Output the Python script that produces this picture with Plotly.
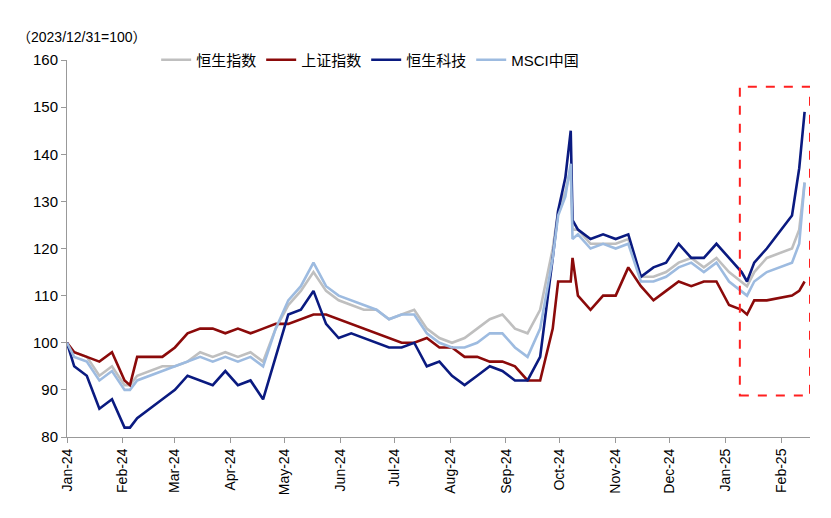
import plotly.graph_objects as go

dates = ["2024-01-01", "2024-01-05", "2024-01-12", "2024-01-19", "2024-01-26", "2024-02-02", "2024-02-05",
         "2024-02-09", "2024-02-23", "2024-03-01", "2024-03-08", "2024-03-15", "2024-03-22", "2024-03-29",
         "2024-04-05", "2024-04-12", "2024-04-19", "2024-04-26", "2024-05-03", "2024-05-10", "2024-05-17",
         "2024-05-24", "2024-05-31", "2024-06-07", "2024-06-14", "2024-06-21", "2024-06-28", "2024-07-05",
         "2024-07-12", "2024-07-19", "2024-07-26", "2024-08-02", "2024-08-09", "2024-08-16", "2024-08-23",
         "2024-08-30", "2024-09-06", "2024-09-13", "2024-09-20", "2024-09-27", "2024-09-30", "2024-10-04",
         "2024-10-07", "2024-10-08", "2024-10-11", "2024-10-18", "2024-10-25", "2024-11-01", "2024-11-08",
         "2024-11-15", "2024-11-22", "2024-11-29", "2024-12-06", "2024-12-13", "2024-12-20", "2024-12-27",
         "2025-01-03", "2025-01-10", "2025-01-13", "2025-01-17", "2025-01-24", "2025-02-07", "2025-02-11",
         "2025-02-14"]

hsi = [100, 98, 97, 93, 95, 91, 91, 93, 95, 95, 96, 98, 97, 98, 97, 98, 96, 103, 108, 111, 115,
       111, 109, 108, 107, 107, 105, 106, 107, 103, 101, 100, 101, 103, 105, 106, 103, 102, 107, 120, 128, 132,
       137, 124, 124, 121, 121, 121, 122, 114, 114, 115, 117, 118, 116, 118,
       115, 113, 112, 115, 118, 120, 124, 134]
sse = [100, 98, 97, 96, 98, 92, 91, 97, 97, 99, 102, 103, 103, 102, 103, 102, 103, 104, 104, 105, 106,
       106, 105, 104, 103, 102, 101, 100, 100, 101, 99, 99, 97, 97, 96, 96, 95, 92, 92, 103, 113, 113,
       113, 118, 110, 107, 110, 110, 116, 112, 109, 111, 113, 112, 113, 113,
       108, 107, 106, 109, 109, 110, 111, 113]
hstech = [100, 95, 93, 86, 88, 82, 82, 84, 88, 90, 93, 92, 91, 94, 91, 92, 88, 97, 106, 107, 111,
          104, 101, 102, 101, 100, 99, 99, 100, 95, 96, 93, 91, 93, 95, 94, 92, 92, 97, 118, 128, 135,
          145, 126, 124, 122, 123, 122, 123, 114, 116, 117, 121, 118, 118, 121,
          118, 115, 113, 117, 120, 127, 137, 149]
msci = [100, 97, 96, 92, 94, 90, 90, 92, 94, 95, 96, 97, 96, 97, 96, 97, 95, 103, 109, 112, 117,
        112, 110, 109, 108, 107, 105, 106, 106, 102, 100, 99, 99, 100, 102, 102, 99, 97, 103, 118, 127, 131,
        138, 122, 123, 120, 121, 120, 121, 113, 113, 114, 116, 117, 115, 117,
        113, 111, 110, 113, 115, 117, 121, 134]

series = [("恒生指数", hsi, "#bfbfbf"), ("上证指数", sse, "#8b0a0a"),
          ("恒生科技", hstech, "#0a1a80"), ("MSCI中国", msci, "#9dbbe0")]

fig = go.Figure()
for name, vals, col in series:
    fig.add_trace(go.Scatter(x=dates, y=vals, mode="lines", name=name,
                             line=dict(color=col, width=2.6)))

fig.add_shape(type="rect", x0="2025-01-09", x1="2025-02-17", y0=88.8, y1=154.3,
              xref="x", yref="y", line=dict(color="#ff2020", width=2, dash="dash"))

tickvals = ["2024-%02d-01" % m for m in range(1, 13)] + ["2025-01-01", "2025-02-01"]
ticktext = [m + "-24" for m in ["Jan", "Feb", "Mar", "Apr", "May", "Jun", "Jul", "Aug", "Sep", "Oct", "Nov", "Dec"]] + ["Jan-25", "Feb-25"]

fig.update_layout(
    width=831, height=518, plot_bgcolor="white", paper_bgcolor="white",
    margin=dict(l=59, r=29, t=52, b=89),
    font=dict(family="Liberation Sans, Noto Sans CJK SC", size=15, color="#000"),
    legend=dict(orientation="h", x=0.12, y=1.0, yanchor="middle", bgcolor="rgba(0,0,0,0)",
                font=dict(size=15)),
    annotations=[dict(text="（2023/12/31=100）", x=-0.07, y=1.06, xref="paper", yref="paper",
                      xanchor="left", yanchor="middle", showarrow=False, font=dict(size=14))],
)
fig.update_xaxes(range=["2024-01-01", "2025-02-17"], tickvals=tickvals, ticktext=ticktext,
                 tickangle=-90, showgrid=False, showline=True, linecolor="#999", ticks="outside",
                 ticklen=5, tickcolor="#999", tickfont=dict(size=14), automargin=False)
fig.update_yaxes(range=[80, 160], dtick=10, showgrid=False, showline=True, linecolor="#999",
                 ticks="outside", ticklen=5, tickcolor="#999", tickfont=dict(size=15), automargin=False)

fig.write_html("out.html")
